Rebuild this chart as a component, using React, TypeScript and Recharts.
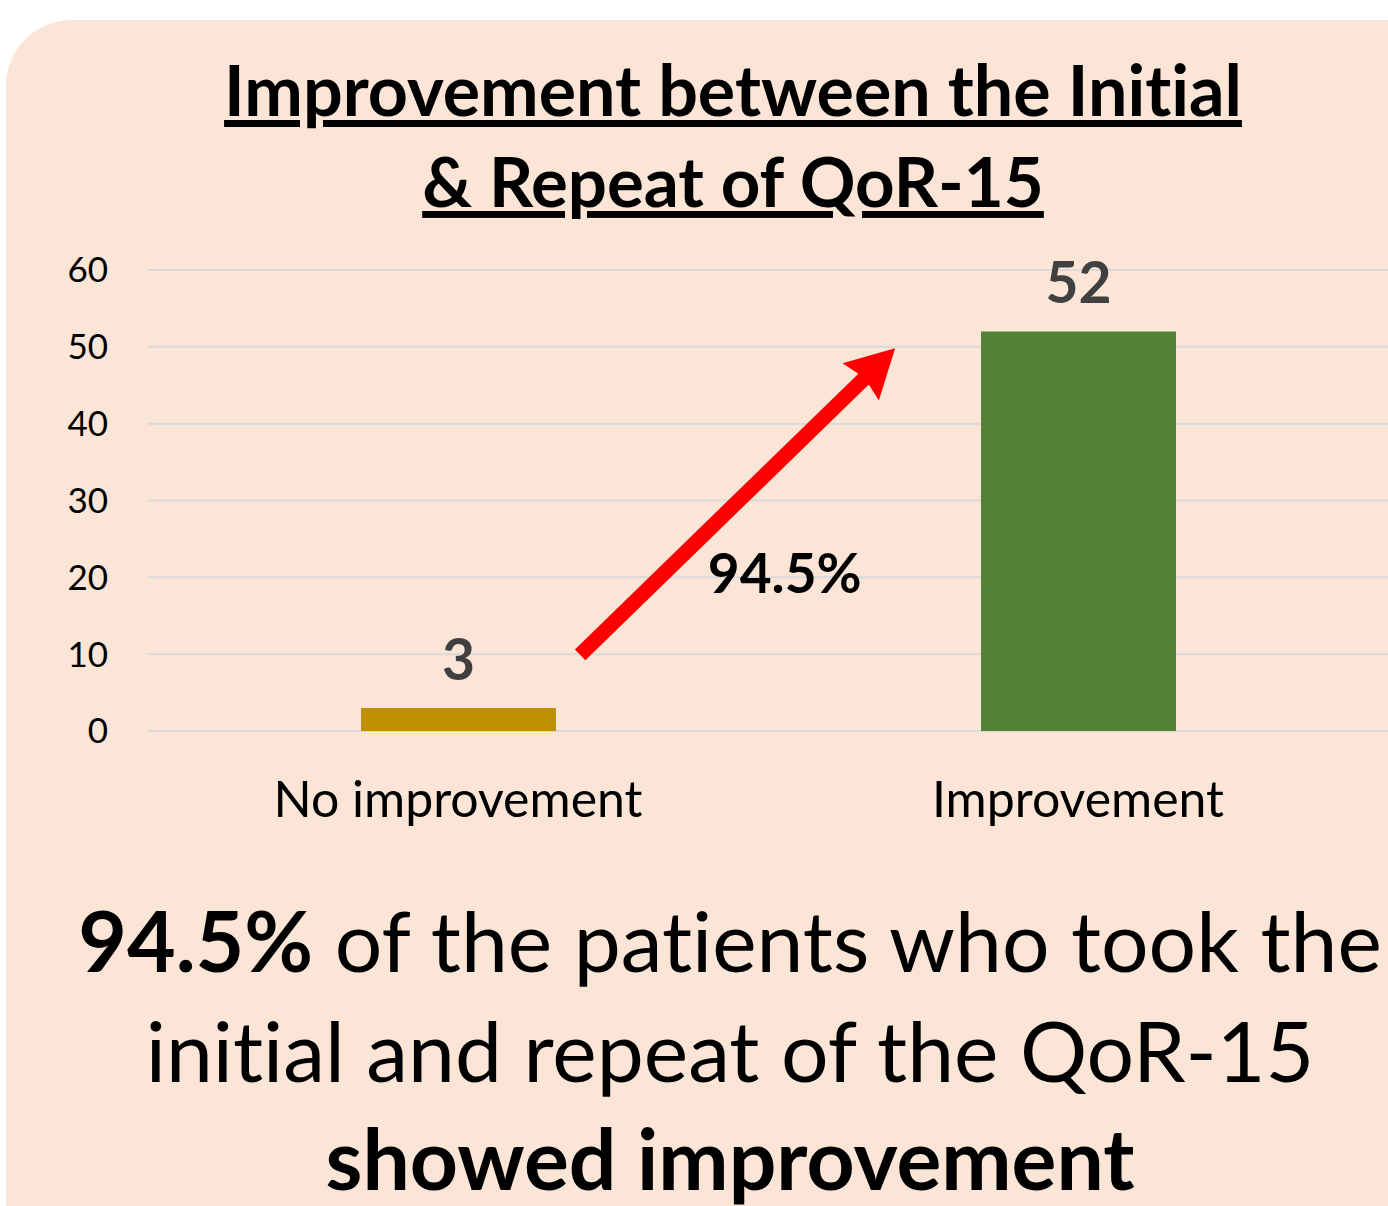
import React from 'react';
import { BarChart, Bar, XAxis, YAxis, CartesianGrid, LabelList, ReferenceLine, ReferenceDot, Cell } from 'recharts';

const categories = ['No improvement', 'Improvement'];
const categoryPos = [0.5, 1.5];
const counts = [3, 52];
const barColors = ['#BF9000', '#548235'];
const yTicks = [0, 10, 20, 30, 40, 50, 60];
const arrowStart = { x: 0.697, y: 9.9 };
const arrowEnd = { x: 1.205, y: 49.8 };
const arrowLabel = { x: 1.027, y: 20.7, text: '94.5%' };
const titleLines = ['Improvement between the Initial', '& Repeat of QoR-15'];

const data = categories.map((c, i) => ({ name: c, pos: categoryPos[i], value: counts[i] }));

const FONT = 'Lato, "Open Sans", sans-serif';
const noLig: React.CSSProperties = { fontVariantLigatures: 'none', fontFeatureSettings: '"liga" 0, "clig" 0' };

const ArrowShape = (p: any) => {
  const { x1, y1, x2, y2 } = p;
  const dx = x2 - x1;
  const dy = y2 - y1;
  const len = Math.sqrt(dx * dx + dy * dy);
  const ux = dx / len;
  const uy = dy / len;
  const nx = -uy;
  const ny = ux;
  const headLen = 48;
  const headHalf = 26;
  const shaftHalf = 7.5;
  const bx = x2 - ux * headLen;
  const by = y2 - uy * headLen;
  const pts = [
    [x1 + nx * shaftHalf, y1 + ny * shaftHalf],
    [bx + ux * 4 + nx * shaftHalf, by + uy * 4 + ny * shaftHalf],
    [bx + nx * headHalf, by + ny * headHalf],
    [x2, y2],
    [bx - nx * headHalf, by - ny * headHalf],
    [bx + ux * 4 - nx * shaftHalf, by + uy * 4 - ny * shaftHalf],
    [x1 - nx * shaftHalf, y1 - ny * shaftHalf],
  ];
  return <polygon points={pts.map((q) => q.join(',')).join(' ')} fill="#FF0000" />;
};

const LabelShape = (p: any) => (
  <text x={p.cx} y={p.cy} textAnchor="middle" dominantBaseline="central" fontFamily={FONT} fontWeight={700} fontSize={55} fill="#000">
    {arrowLabel.text}
  </text>
);

const fmt = (v: number) => {
  const i = categoryPos.indexOf(v);
  return i >= 0 ? categories[i] : '';
};

export default function App() {
  return (
    <div style={{ position: 'absolute', left: 0, top: 0, width: 1388, height: 1206, background: '#fff', overflow: 'hidden' }}>
      <div style={{ position: 'absolute', left: 6, top: 20, width: 1382, height: 1186, background: '#FBE5D6', borderTopLeftRadius: 66 }} />
      <div style={{ position: 'absolute', left: 0, top: 0, ...noLig }}>
        <BarChart width={1388} height={900} data={data} margin={{ top: 270, right: 0, bottom: 69, left: 0 }}>
          <CartesianGrid vertical={false} stroke="#D9D9D9" strokeWidth={2} />
          <XAxis dataKey="pos" type="number" domain={[0, 2]} ticks={categoryPos} tickFormatter={fmt}
            axisLine={false} tickLine={false} tickSize={0} tickMargin={50} height={100}
            tick={{ fontFamily: FONT, fontSize: 50, fill: '#000' }} interval={0} />
          <YAxis domain={[0, 60]} ticks={yTicks} axisLine={false} tickLine={false} tickSize={0} tickMargin={40} width={148}
            tick={{ fontFamily: FONT, fontSize: 35, fill: '#000' }} interval={0} />
          <Bar dataKey="value" barSize={195} isAnimationActive={false}>
            {data.map((d, i) => <Cell key={d.name} fill={barColors[i]} />)}
            <LabelList dataKey="value" position="top" offset={28} fill="#404040" fontFamily={FONT} fontWeight={700} fontSize={57} />
          </Bar>
          <ReferenceLine segment={[arrowStart, arrowEnd]} ifOverflow="visible" shape={ArrowShape} />
          <ReferenceDot x={arrowLabel.x} y={arrowLabel.y} r={0} ifOverflow="visible" shape={LabelShape} />
        </BarChart>
      </div>
      <svg width={1388} height={1206} style={{ position: 'absolute', left: 0, top: 0, pointerEvents: 'none', ...noLig }}>
        <g fontFamily={FONT} fill="#000">
          <text x={733} y={116} textAnchor="middle" fontWeight={700} fontSize={70} textDecoration="underline">{titleLines[0]}</text>
          <text x={733} y={207} textAnchor="middle" fontWeight={700} fontSize={69} textDecoration="underline">{titleLines[1]}</text>
          <text x={730} y={972} textAnchor="middle" fontSize={84}>
            <tspan fontWeight={700}>94.5%</tspan> of the patients who took the
          </text>
          <text x={730} y={1082} textAnchor="middle" fontSize={84}>initial and repeat of the QoR-15</text>
          <text x={730} y={1190} textAnchor="middle" fontSize={84} fontWeight={700}>showed improvement</text>
        </g>
      </svg>
    </div>
  );
}
